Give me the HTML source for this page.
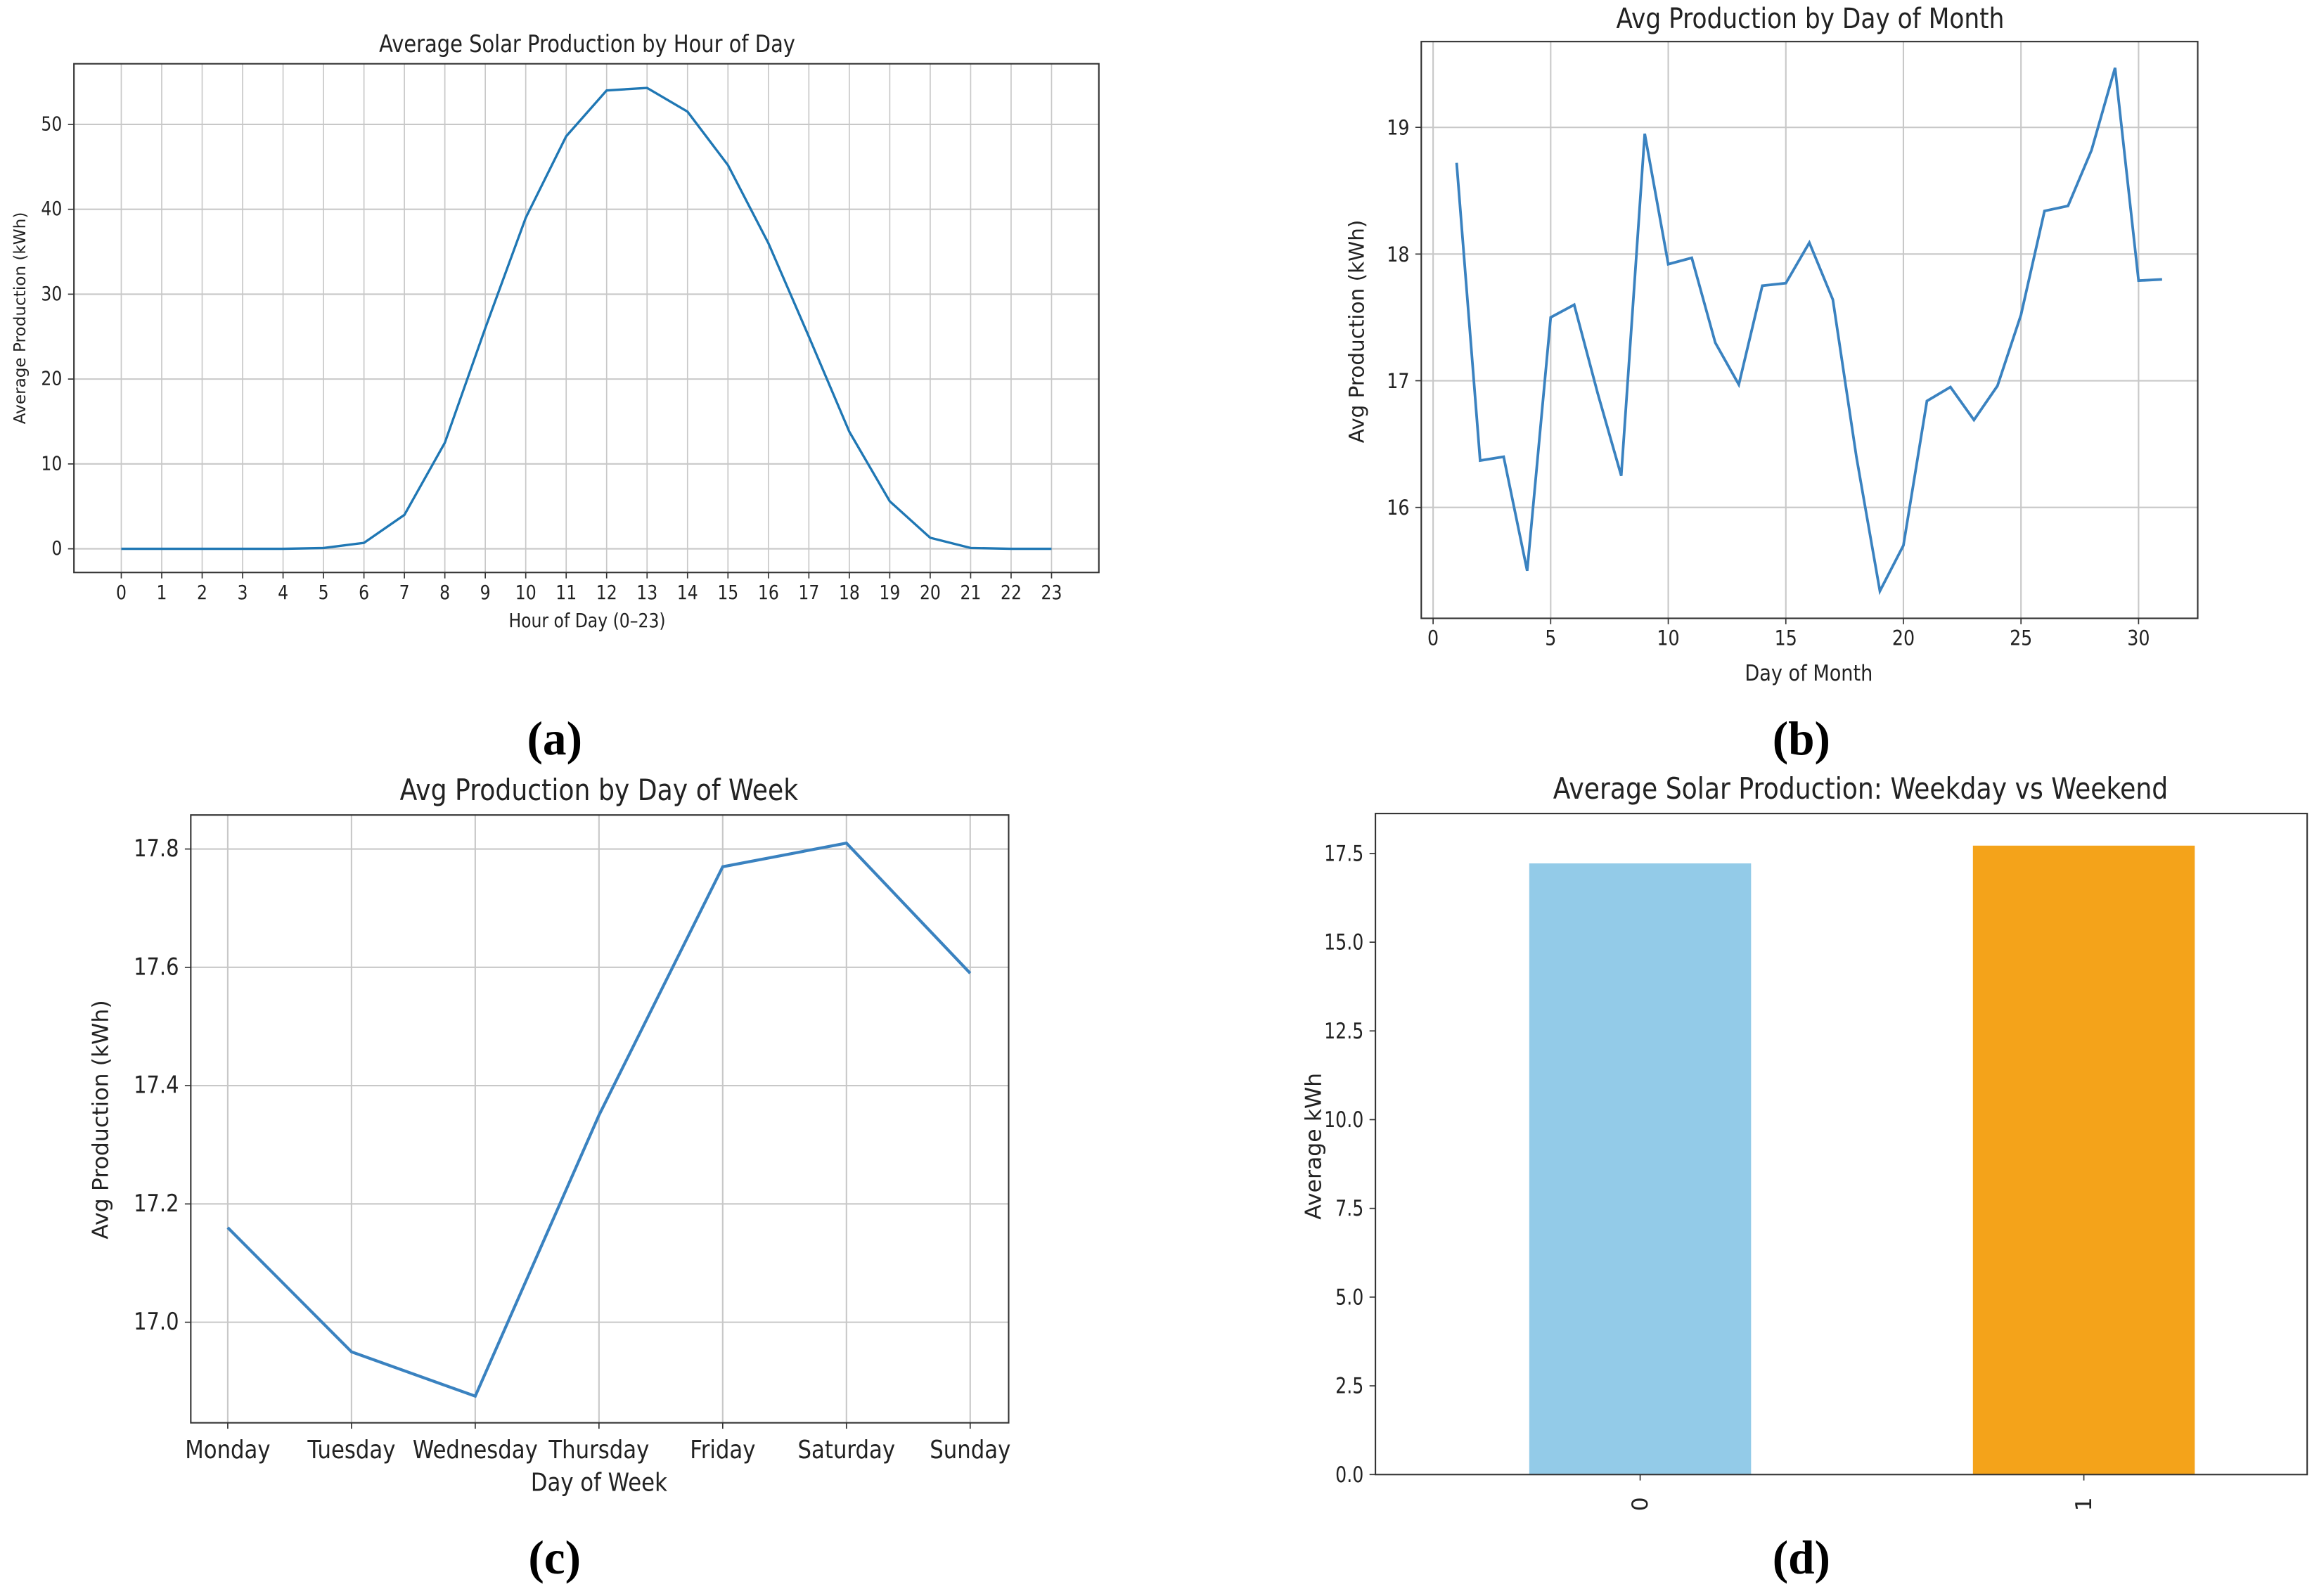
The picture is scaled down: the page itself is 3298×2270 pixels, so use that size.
<!DOCTYPE html>
<html><head><meta charset="utf-8"><style>
html,body{margin:0;padding:0;background:#fff;}
svg{display:block;}
text{font-family:"DejaVu Sans","Liberation Sans",sans-serif;fill:#222;}
.cap{font-family:"Liberation Serif",serif;font-weight:bold;fill:#000;}
</style></head><body>
<svg id="s" width="3298" height="2270" viewBox="0 0 1568 1079" xmlns="http://www.w3.org/2000/svg"></svg>
<script>
const hourCats=[0,1,2,3,4,5,6,7,8,9,10,11,12,13,14,15,16,17,18,19,20,21,22,23];
const hourVals=[0,0,0,0,0,0.1,0.7,4,12.5,26,39,48.6,54,54.3,51.5,45.2,36,25,13.8,5.6,1.3,0.1,0,0];
const hourYTicks=[0,10,20,30,40,50];
const dayCats=[1,2,3,4,5,6,7,8,9,10,11,12,13,14,15,16,17,18,19,20,21,22,23,24,25,26,27,28,29,30,31];
const dayVals=[18.72,16.37,16.40,15.50,17.50,17.60,16.90,16.25,18.95,17.92,17.97,17.30,16.97,17.75,17.77,18.09,17.64,16.40,15.34,15.70,16.84,16.95,16.69,16.96,17.52,18.34,18.38,18.82,19.47,17.79,17.80];
const dayXTicks=[0,5,10,15,20,25,30];
const dayYTicks=[16,17,18,19];
const weekCats=["Monday","Tuesday","Wednesday","Thursday","Friday","Saturday","Sunday"];
const weekVals=[17.16,16.95,16.875,17.35,17.77,17.81,17.59];
const weekYTicks=[17.0,17.2,17.4,17.6,17.8];
const wkCats=["0","1"];
const wkVals=[17.22,17.72];
const wkYTicks=[0,2.5,5,7.5,10,12.5,15,17.5];

const S=document.getElementById('s');
const NS="http://www.w3.org/2000/svg";
function el(tag,attrs,name,parent){const e=document.createElementNS(NS,tag);for(const k in attrs)e.setAttribute(k,attrs[k]);


(parent||S).appendChild(e);return e;}
function txt(x,y,s,size,anchor,name,rot,cls,sx){const g=el('g',{transform:`translate(${x},${y})`+(rot?` rotate(${rot})`:'')},name);
const t=el('text',{x:0,y:0,'font-size':size,'text-anchor':anchor||'middle',transform:(cls||rot)?'':`scale(${sx||0.86},1)`},name+'-text',g);
if(cls)t.setAttribute('class',cls);t.textContent=s;return t;}
function lin(d0,d1,r0,r1){return v=>r0+(v-d0)*(r1-r0)/(d1-d0);}

// Panel a
(function(){
const L=50,R=743,T=43,B=387;const x=lin(0,23,82,711),y=lin(0,50,371,84);
hourCats.forEach(c=>{el('line',{x1:x(c),x2:x(c),y1:T,y2:B,stroke:'#c8c8c8','stroke-width':0.8},'a-vgrid');
el('line',{x1:x(c),x2:x(c),y1:B,y2:B+4,stroke:'#333','stroke-width':0.8},'a-xtick');
txt(x(c),B+18,String(c),13,'middle','a-xtick-label');});
hourYTicks.forEach(v=>{el('line',{x1:L,x2:R,y1:y(v),y2:y(v),stroke:'#c8c8c8','stroke-width':1},'a-hgrid');
el('line',{x1:L-4,x2:L,y1:y(v),y2:y(v),stroke:'#333','stroke-width':0.8},'a-ytick');
txt(L-8,y(v)+4,String(v),13,'end','a-ytick-label');});
el('rect',{x:L,y:T,width:R-L,height:B-T,fill:'none',stroke:'#333','stroke-width':1},'a-plot-frame');
el('polyline',{points:hourCats.map((c,i)=>x(c)+','+y(hourVals[i])).join(' '),fill:'none',stroke:'#1f77b4','stroke-width':1.6},'a-production-line');
txt(397,35,'Average Solar Production by Hour of Day',16,'middle','a-title');
txt(397,424,'Hour of Day (0–23)',13,'middle','a-x-axis-title');
txt(17,215,'Average Production (kWh)',11,'middle','a-y-axis-title',-90);
txt(375,510,'(a)',32,'middle','a-caption',0,'cap');
})();
// Panel b
(function(){
const L=961,R=1486,T=28,B=418;const x=lin(0,30,969,1446),y=lin(16,19,343,86);
dayXTicks.forEach(c=>{el('line',{x1:x(c),x2:x(c),y1:T,y2:B,stroke:'#c8c8c8','stroke-width':1},'b-vgrid');
el('line',{x1:x(c),x2:x(c),y1:B,y2:B+4,stroke:'#333','stroke-width':0.8},'b-xtick');
txt(x(c),B+18,String(c),14,'middle','b-xtick-label');});
dayYTicks.forEach(v=>{el('line',{x1:L,x2:R,y1:y(v),y2:y(v),stroke:'#c8c8c8','stroke-width':1},'b-hgrid');
el('line',{x1:L-4,x2:L,y1:y(v),y2:y(v),stroke:'#333','stroke-width':0.8},'b-ytick');
txt(L-8,y(v)+5,String(v),14,'end','b-ytick-label');});
el('rect',{x:L,y:T,width:R-L,height:B-T,fill:'none',stroke:'#333','stroke-width':1},'b-plot-frame');
el('polyline',{points:dayCats.map((c,i)=>x(c)+','+y(dayVals[i])).join(' '),fill:'none',stroke:'#3a82c0','stroke-width':1.8},'b-production-line');
txt(1224,19,'Avg Production by Day of Month',19,'middle','b-title');
txt(1223,460,'Day of Month',15,'middle','b-x-axis-title');
txt(922,224,'Avg Production (kWh)',14,'middle','b-y-axis-title',-90);
txt(1218,510,'(b)',32,'middle','b-caption',0,'cap');
})();
// Panel c
(function(){
const L=129,R=682,T=551,B=962;const x=i=>154+i*(656-154)/6,y=lin(17.0,17.8,894,574);
weekCats.forEach((c,i)=>{el('line',{x1:x(i),x2:x(i),y1:T,y2:B,stroke:'#c8c8c8','stroke-width':1},'c-vgrid');
el('line',{x1:x(i),x2:x(i),y1:B,y2:B+4,stroke:'#333','stroke-width':0.8},'c-xtick');
txt(x(i),B+24,c,17,'middle','c-xtick-label');});
weekYTicks.forEach(v=>{el('line',{x1:L,x2:R,y1:y(v),y2:y(v),stroke:'#c8c8c8','stroke-width':1},'c-hgrid');
el('line',{x1:L-4,x2:L,y1:y(v),y2:y(v),stroke:'#333','stroke-width':0.8},'c-ytick');
txt(L-8,y(v)+5,v.toFixed(1),16,'end','c-ytick-label');});
el('rect',{x:L,y:T,width:R-L,height:B-T,fill:'none',stroke:'#333','stroke-width':1},'c-plot-frame');
el('polyline',{points:weekVals.map((v,i)=>x(i)+','+y(v)).join(' '),fill:'none',stroke:'#3a82c0','stroke-width':2},'c-production-line');
txt(405,541,'Avg Production by Day of Week',20,'middle','c-title');
txt(405,1008,'Day of Week',17,'middle','c-x-axis-title');
txt(73,757,'Avg Production (kWh)',15,'middle','c-y-axis-title',-90);
txt(375,1064,'(c)',32,'middle','c-caption',0,'cap');
})();
// Panel d
(function(){
const L=930,R=1560,T=550,B=997;const y=lin(0,17.5,997,577);const cx=[1109,1409],bw=150,cols=['#93cbe8','#f4a31a'];
wkCats.forEach((c,i)=>{el('rect',{x:cx[i]-bw/2,y:y(wkVals[i]),width:bw,height:B-y(wkVals[i]),fill:cols[i]},'d-bar-'+c);
el('line',{x1:cx[i],x2:cx[i],y1:B,y2:B+4,stroke:'#333','stroke-width':0.8},'d-xtick');
txt(cx[i]+5,B+20,c,15,'middle','d-xtick-label',-90);});
wkYTicks.forEach(v=>{el('line',{x1:L-4,x2:L,y1:y(v),y2:y(v),stroke:'#333','stroke-width':0.8},'d-ytick');
txt(L-8,y(v)+5,v.toFixed(1),15,'end','d-ytick-label',0,null,0.8);});
el('rect',{x:L,y:T,width:R-L,height:B-T,fill:'none',stroke:'#333','stroke-width':1},'d-plot-frame');
txt(1258,540,'Average Solar Production: Weekday vs Weekend',20,'middle','d-title');
txt(893,775,'Average kWh',15,'middle','d-y-axis-title',-90);
txt(1218,1064,'(d)',32,'middle','d-caption',0,'cap');
})();
</script>
</body></html>
